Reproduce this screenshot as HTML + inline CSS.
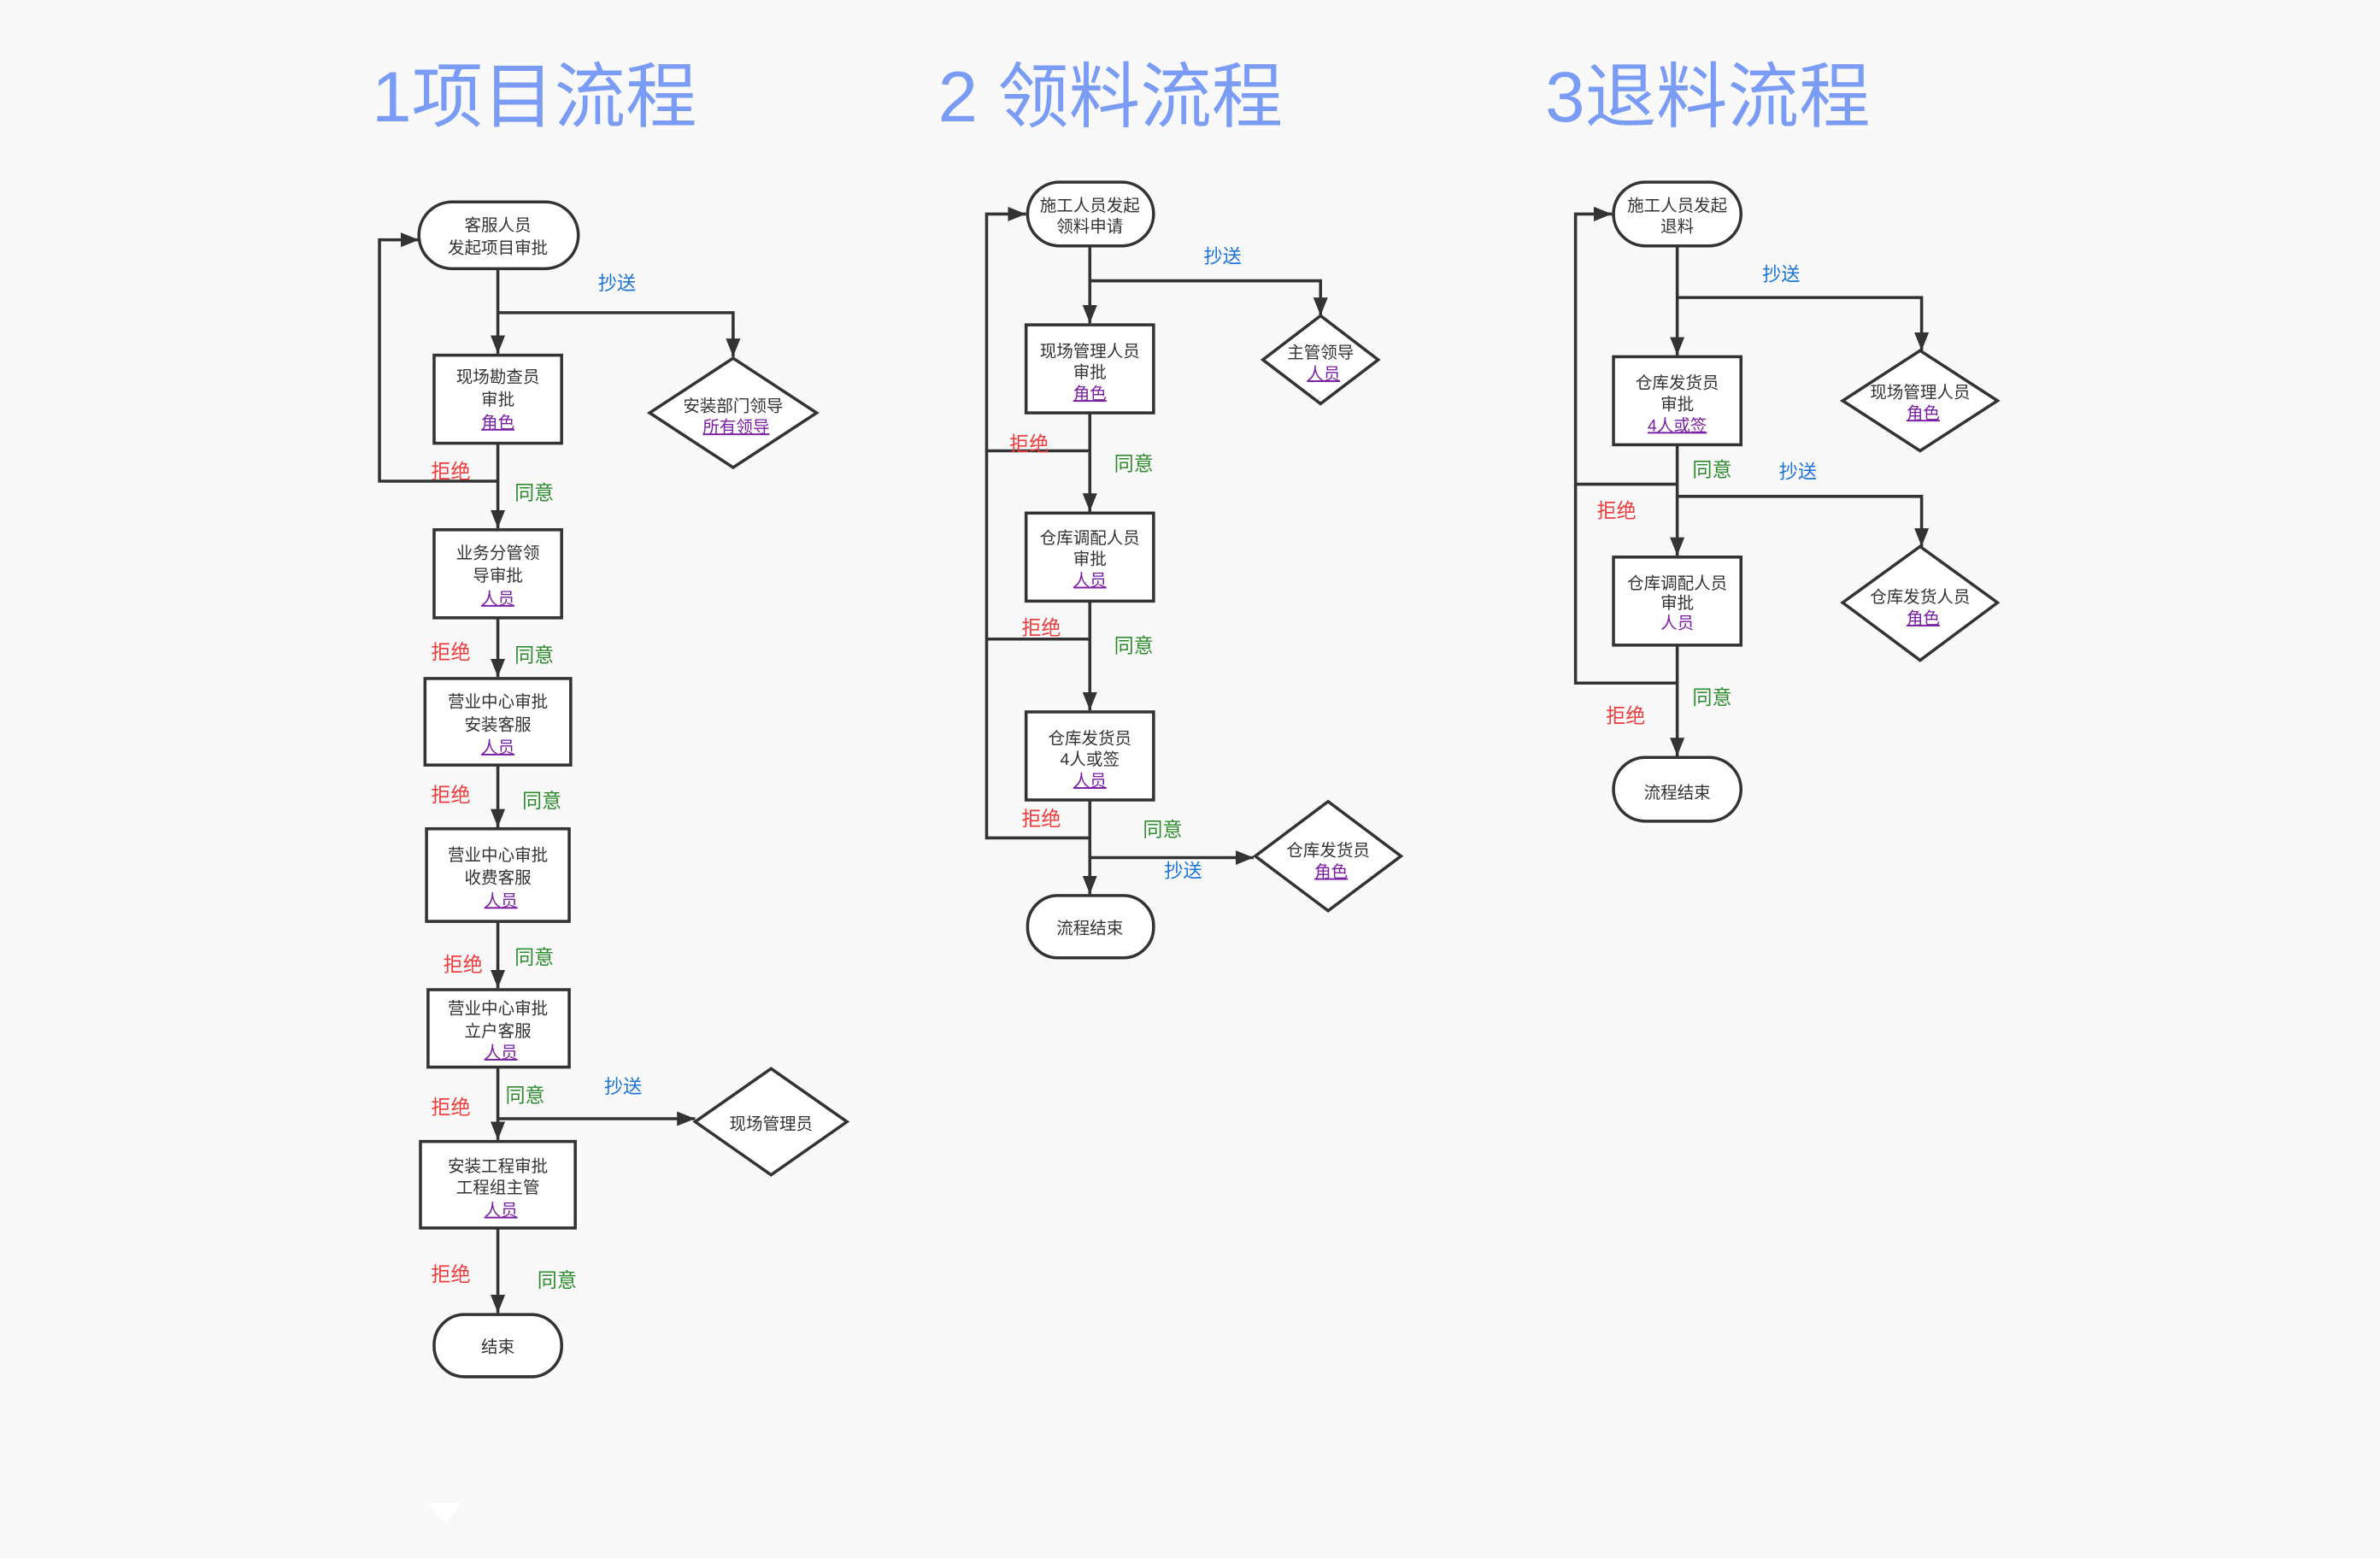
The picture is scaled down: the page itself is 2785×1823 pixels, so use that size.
<!DOCTYPE html>
<html><head><meta charset="utf-8"><style>
html,body{margin:0;padding:0;background:#f9f9f9;}
svg{display:block;}
text{font-family:"Liberation Sans","Noto Sans CJK SC",sans-serif;}
.n{font-size:11px;fill:#333;text-anchor:middle;}
.p{font-size:11px;fill:#7a1fa2;text-anchor:middle;text-decoration:underline;}
.pp{font-size:11px;fill:#7a1fa2;text-anchor:middle;}
.r{font-size:13px;fill:#f03c3c;}
.g{font-size:13px;fill:#2e8b2e;}
.b{font-size:12.5px;fill:#1a73d9;}
.t{font-size:47px;fill:#7b9cf5;}
.s{fill:#fff;stroke:#333;stroke-width:2;}
.l{fill:none;stroke:#333;stroke-width:2;}
.a{fill:none;stroke:#333;stroke-width:2;marker-end:url(#ar);}
</style></head><body>
<svg width="2785" height="1823" viewBox="0 0 1568 1026.4" preserveAspectRatio="none">
<defs><marker id="ar" viewBox="0 0 10 10" refX="10" refY="5" markerWidth="6" markerHeight="6" markerUnits="strokeWidth" orient="auto"><path d="M0,1 L10,5 L0,9 z" fill="#333"/></marker></defs>
<rect width="1568" height="1027" fill="#f9f9f9"/>
<text class="t" x="245" y="80">1项目流程</text>
<text class="t" x="618" y="80">2 领料流程</text>
<text class="t" x="1018" y="80">3退料流程</text>

<!-- Column 1 -->
<path class="a" d="M328,177 V233"/>
<path class="a" d="M328,206 H483 V235"/>
<text class="b" x="394" y="191">抄送</text>
<path class="s" d="M483,236 L538,272 L483,308 L428,272 Z"/>
<text class="n" x="483" y="271">安装部门领导</text>
<text class="p" x="485" y="285">所有领导 </text>
<rect class="s" x="276" y="133" width="105" height="44" rx="22"/>
<text class="n" x="328" y="152">客服人员</text>
<text class="n" x="328" y="167">发起项目审批</text>
<rect class="s" x="286" y="234" width="84" height="58"/>
<text class="n" x="328" y="252">现场勘查员</text>
<text class="n" x="328" y="267">审批</text>
<text class="p" x="328" y="282">角色</text>
<path class="a" d="M328,317 H250 V158 H276"/>
<path class="a" d="M328,292 V348"/>
<text class="r" x="284" y="315">拒绝</text>
<text class="g" x="339" y="329">同意</text>
<rect class="s" x="286" y="349" width="84" height="58"/>
<text class="n" x="328" y="368">业务分管领</text>
<text class="n" x="328" y="383">导审批</text>
<text class="p" x="328" y="398">人员</text>
<path class="a" d="M328,407 V446"/>
<text class="r" x="284" y="434">拒绝</text>
<text class="g" x="339" y="436">同意</text>
<rect class="s" x="280" y="447" width="96" height="57"/>
<text class="n" x="328" y="466">营业中心审批</text>
<text class="n" x="328" y="481">安装客服</text>
<text class="p" x="328" y="496">人员</text>
<path class="a" d="M328,504 V545"/>
<text class="r" x="284" y="528">拒绝</text>
<text class="g" x="344" y="532">同意</text>
<rect class="s" x="281" y="546" width="94" height="61"/>
<text class="n" x="328" y="567">营业中心审批</text>
<text class="n" x="328" y="582">收费客服</text>
<text class="p" x="330" y="597">人员 </text>
<path class="a" d="M328,607 V651"/>
<text class="r" x="292" y="640">拒绝</text>
<text class="g" x="339" y="635">同意</text>
<rect class="s" x="282" y="652" width="93" height="51"/>
<text class="n" x="328" y="668">营业中心审批</text>
<text class="n" x="328" y="683">立户客服</text>
<text class="p" x="330" y="697">人员 </text>
<path class="a" d="M328,703 V751"/>
<path class="a" d="M328,737 H458"/>
<text class="g" x="333" y="726">同意</text>
<text class="r" x="284" y="734">拒绝</text>
<text class="b" x="398" y="720">抄送</text>
<path class="s" d="M508,704 L558,739 L508,774 L458,739 Z"/>
<text class="n" x="508" y="744">现场管理员</text>
<rect class="s" x="277" y="752" width="102" height="57"/>
<text class="n" x="328" y="772">安装工程审批</text>
<text class="n" x="328" y="786">工程组主管</text>
<text class="p" x="330" y="801">人员 </text>
<path class="a" d="M328,809 V865"/>
<text class="r" x="284" y="844">拒绝</text>
<text class="g" x="354" y="848">同意</text>
<rect class="s" x="286" y="866" width="84" height="41" rx="20"/>
<text class="n" x="328" y="891">结束</text>

<!-- Column 2 -->
<path class="a" d="M718,162 V213"/>
<path class="a" d="M718,185 H870 V208"/>
<text class="b" x="793" y="173">抄送</text>
<path class="s" d="M870,208 L908,237 L870,266 L832,237 Z"/>
<text class="n" x="870" y="236">主管领导</text>
<text class="p" x="872" y="250">人员 </text>
<rect class="s" x="677" y="120" width="83" height="42" rx="21"/>
<text class="n" x="718" y="139">施工人员发起</text>
<text class="n" x="718" y="153">领料申请</text>
<path class="a" d="M718,297 H650 V141 H676"/>
<path class="l" d="M650,297 V552 H718"/>
<path class="l" d="M650,421 H718"/>
<rect class="s" x="676" y="214" width="84" height="58"/>
<text class="n" x="718" y="235">现场管理人员</text>
<text class="n" x="718" y="249">审批</text>
<text class="p" x="718" y="263">角色</text>
<path class="a" d="M718,272 V337"/>
<text class="r" x="665" y="297">拒绝</text>
<text class="g" x="734" y="310">同意</text>
<rect class="s" x="676" y="338" width="84" height="58"/>
<text class="n" x="718" y="358">仓库调配人员</text>
<text class="n" x="718" y="372">审批</text>
<text class="p" x="718" y="386">人员</text>
<path class="a" d="M718,396 V468"/>
<text class="r" x="673" y="418">拒绝</text>
<text class="g" x="734" y="430">同意</text>
<rect class="s" x="676" y="469" width="84" height="58"/>
<text class="n" x="718" y="490">仓库发货员</text>
<text class="n" x="718" y="504">4人或签</text>
<text class="p" x="718" y="518">人员</text>
<path class="a" d="M718,527 V589"/>
<path class="a" d="M718,565 H826"/>
<text class="r" x="673" y="544">拒绝</text>
<text class="g" x="753" y="551">同意</text>
<text class="b" x="767" y="578">抄送</text>
<path class="s" d="M875,528 L923,564 L875,600 L827,564 Z"/>
<text class="n" x="875" y="564">仓库发货员</text>
<text class="p" x="877" y="578">角色 </text>
<rect class="s" x="677" y="590" width="83" height="41" rx="20"/>
<text class="n" x="718" y="615">流程结束</text>

<!-- Column 3 -->
<path class="a" d="M1105,162 V234"/>
<path class="a" d="M1105,196 H1266 V231"/>
<text class="b" x="1161" y="185">抄送</text>
<path class="s" d="M1265,231 L1316,264 L1265,297 L1214,264 Z"/>
<text class="n" x="1265" y="262">现场管理人员</text>
<text class="p" x="1267" y="276">角色 </text>
<rect class="s" x="1063" y="120" width="84" height="42" rx="21"/>
<text class="n" x="1105" y="139">施工人员发起</text>
<text class="n" x="1105" y="153">退料</text>
<path class="a" d="M1105,319 H1038 V141 H1062"/>
<path class="l" d="M1038,319 V450 H1105"/>
<rect class="s" x="1063" y="235" width="84" height="58"/>
<text class="n" x="1105" y="256">仓库发货员</text>
<text class="n" x="1105" y="270">审批</text>
<text class="p" x="1105" y="284">4人或签</text>
<path class="a" d="M1105,293 V366"/>
<path class="a" d="M1105,327 H1266 V360"/>
<text class="g" x="1115" y="314">同意</text>
<text class="b" x="1172" y="315">抄送</text>
<text class="r" x="1052" y="341">拒绝</text>
<path class="s" d="M1265,360 L1316,397 L1265,435 L1214,397 Z"/>
<text class="n" x="1265" y="397">仓库发货人员</text>
<text class="p" x="1267" y="411">角色 </text>
<rect class="s" x="1063" y="367" width="84" height="58"/>
<text class="n" x="1105" y="388">仓库调配人员</text>
<text class="n" x="1105" y="401">审批</text>
<text class="pp" x="1105" y="414">人员</text>
<path class="a" d="M1105,425 V498"/>
<text class="g" x="1115" y="464">同意</text>
<text class="r" x="1058" y="476">拒绝</text>
<rect class="s" x="1063" y="499" width="84" height="42" rx="21"/>
<text class="n" x="1105" y="526">流程结束</text>

<path d="M282,990 L304,990 L293,1004 Z" fill="#fff"/>
</svg>
</body></html>
